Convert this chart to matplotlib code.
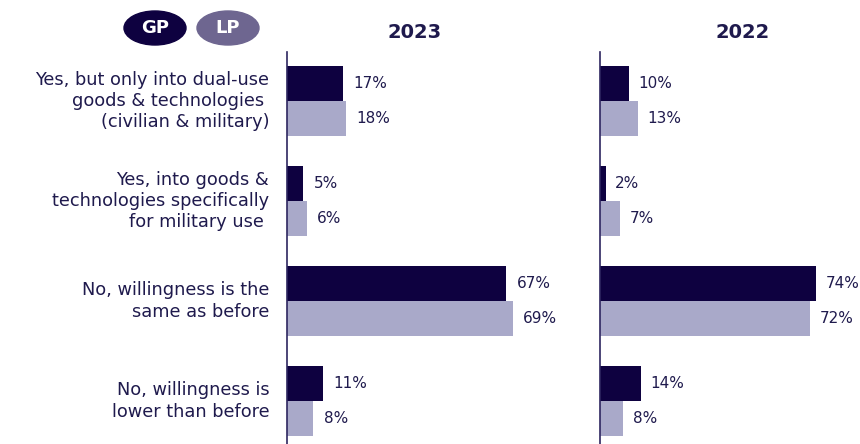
import matplotlib
matplotlib.use("Agg")
import matplotlib.pyplot as plt
from matplotlib.patches import Ellipse
import numpy as np

categories = [
    "Yes, but only into dual-use\ngoods & technologies \n(civilian & military)",
    "Yes, into goods &\ntechnologies specifically\nfor military use ",
    "No, willingness is the\nsame as before",
    "No, willingness is\nlower than before",
]
years = ["2023", "2022"]
gp_2023 = [17, 5, 67, 11]
lp_2023 = [18, 6, 69, 8]
gp_2022 = [10, 2, 74, 14]
lp_2022 = [13, 7, 72, 8]

GP_COLOR = "#0e0140"
LP_COLOR = "#a9a9c9"
LP_PILL = "#6e6690"
TEXT = "#1f1a4d"

plt.rcParams["font.family"] = ["DejaVu Sans"]

W, H = 860, 444
fig = plt.figure(figsize=(W / 100, H / 100), dpi=100)


def px_axes(x0, x1, y0, y1):
    return fig.add_axes([x0 / W, 1 - y1 / H, (x1 - x0) / W, (y1 - y0) / H])


def draw_panel(ax, gp, lp, xmax):
    y = np.arange(len(gp))
    h = 0.35
    ax.barh(y - h / 2, gp, height=h, color=GP_COLOR)
    ax.barh(y + h / 2, lp, height=h, color=LP_COLOR)
    for yi, v in zip(y, gp):
        ax.text(v + 3.2, yi - h / 2, f"{v}%", va="center", ha="left",
                fontsize=11, color=TEXT)
    for yi, v in zip(y, lp):
        ax.text(v + 3.2, yi + h / 2, f"{v}%", va="center", ha="left",
                fontsize=11, color=TEXT)
    ax.set_xlim(0, xmax)
    ax.set_ylim(3.43, -0.49)
    for s in ["top", "right", "bottom"]:
        ax.spines[s].set_visible(False)
    ax.spines["left"].set_color("#2e2660")
    ax.spines["left"].set_linewidth(1.2)
    ax.set_xticks([])
    ax.set_yticks([])
    ax.patch.set_alpha(0)
    for t in ax.texts:
        t.set_clip_on(False)


ax1 = px_axes(287, 560, 52, 444)
draw_panel(ax1, gp_2023, lp_2023, 273 / 3.27)
ax2 = px_axes(600, 860, 52, 444)
draw_panel(ax2, gp_2022, lp_2022, 260 / 2.92)

# category labels, right aligned against the first panel
for i, cat in enumerate(categories):
    ax1.text(-0.065, i, cat, transform=ax1.get_yaxis_transform(),
             ha="right", va="center", fontsize=12.8, color=TEXT,
             linespacing=1.24)

fig.text(415 / W, 1 - 32 / H, years[0], ha="center", va="center",
         fontsize=14, fontweight="bold", color=TEXT)
fig.text(743 / W, 1 - 32 / H, years[1], ha="center", va="center",
         fontsize=14, fontweight="bold", color=TEXT)

# legend pills
for cx, label, col in [(155, "GP", GP_COLOR), (228, "LP", LP_PILL)]:
    e = Ellipse((cx / W, 1 - 28 / H), 62 / W, 34 / H, color=col,
                transform=fig.transFigure)
    fig.patches.append(e)
    fig.text(cx / W, 1 - 28 / H, label, ha="center", va="center",
             fontsize=13, fontweight="bold", color="white")

fig.savefig("out.png", dpi=100)
